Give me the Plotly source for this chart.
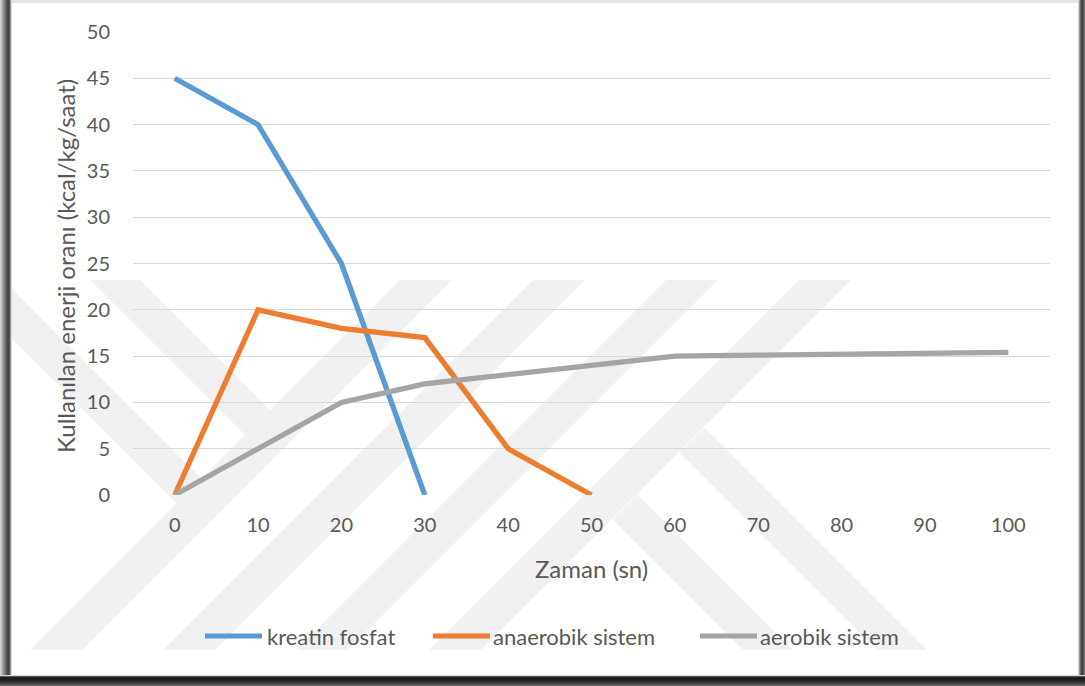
import plotly.graph_objects as go

# Data: time (s) vs energy usage rate (kcal/kg/saat)
zaman = [0, 10, 20, 30, 40, 50, 60, 70, 80, 90, 100]
kreatin_fosfat = [45, 40, 25, 0, None, None, None, None, None, None, None]
anaerobik_sistem = [0, 20, 18, 17, 5, 0, None, None, None, None, None]
aerobik_sistem = [0, 5, 10, 12, 13, 14, 15, 15.1, 15.2, 15.3, 15.4]

series_names = ["kreatin fosfat", "anaerobik sistem", "aerobik sistem"]
series_colors = ["#5B9BD5", "#ED7D31", "#A5A5A5"]
y_ticks = [0, 5, 10, 15, 20, 25, 30, 35, 40, 45, 50]

W, H = 1085, 686
ML, MR, MT, MB = 133, 35, 32, 191
PW, PH = W - ML - MR, H - MT - MB
FONT = "Lato"
TXT = "#595959"


def px(x):
    return (x - ML) / PW


def py(y):
    return (H - MB - y) / PH


def path(pts):
    return "M " + " L ".join(f"{px(x):.5f},{py(y):.5f}" for x, y in pts) + " Z"


fig = go.Figure()
for name, vals, col in zip(series_names, [kreatin_fosfat, anaerobik_sistem, aerobik_sistem], series_colors):
    fig.add_trace(go.Scatter(
        x=zaman, y=vals, name=name, mode="lines",
        line=dict(color=col, width=5.3), connectgaps=False, showlegend=False,
    ))

shapes = []
# faint background watermark made of diagonal stripes
wm = "rgba(0,0,0,0.055)"
for k in range(4):
    xt = 400 + 133 * k
    shapes.append(dict(type="path", xref="paper", yref="paper", layer="below",
                       path=path([(xt, 280), (xt + 52, 280), (xt + 52 - 370, 650), (xt - 370, 650)]),
                       fillcolor=wm, line=dict(width=0)))
for pts in [
    [(12, 280), (3, 280), (201.5, 478.5), (176.5, 503.5), (12, 339)],
    [(90, 280), (140, 280), (270, 410), (245, 435)],
    [(704.5, 427.5), (679.5, 452.5), (877, 650), (927, 650)],
    [(637.5, 494.5), (612.5, 519.5), (743, 650), (793, 650)],
]:
    shapes.append(dict(type="path", xref="paper", yref="paper", layer="below",
                       path=path(pts), fillcolor=wm, line=dict(width=0)))

# frame shadow around the chart panel
def rect(x0, y0, x1, y1, color):
    shapes.append(dict(type="rect", xref="paper", yref="paper", layer="above",
                       x0=px(x0), x1=px(x1), y0=py(y1), y1=py(y0),
                       fillcolor=color, line=dict(width=0)))

rect(0, 0, W, 3, "#e4e4e4")
for i, c in enumerate(["#d0d0d0", "#bdbdbd", "#a8a8a8", "#939393", "#7e7e7e", "#6a6a6a",
                       "#585858", "#4a4a4a", "#444444", "#555555", "#9a9a9a", "#d8d8d8"]):
    rect(i, 0, i + 1, H, c)
for i, c in enumerate(["#d6d6d6", "#9a9a9a", "#6a6a6a", "#4a4a4a", "#404040", "#555555", "#777777"]):
    rect(1078 + i, 0, 1079 + i, H, c)
for i, c in enumerate(["#d6d6d6", "#555555", "#222222", "#1a1a1a", "#1e1e1e", "#262626",
                       "#2e2e2e", "#383838", "#444444", "#555555", "#666666"]):
    rect(0, 675 + i, W, 676 + i, c)

# legend drawn below the plot
legend_items = [(205, 265), (433, 491), (700, 758)]
annotations = []
for (lx, tx), name, col in zip(legend_items, series_names, series_colors):
    shapes.append(dict(type="line", xref="paper", yref="paper", x0=px(lx), x1=px(lx + 57),
                       y0=py(636), y1=py(636), line=dict(color=col, width=5)))
    annotations.append(dict(text=name, xref="paper", yref="paper", x=px(tx), y=py(636),
                            xanchor="left", yanchor="middle", showarrow=False,
                            font=dict(family=FONT, size=22, color=TXT)))

annotations.append(dict(text="Zaman (sn)", xref="paper", yref="paper", x=px(591), y=py(568),
                        xanchor="center", yanchor="middle", showarrow=False,
                        font=dict(family=FONT, size=24, color=TXT)))
annotations.append(dict(text="Kullanılan enerji oranı (kcal/kg/saat)", xref="paper", yref="paper",
                        x=px(65), y=py(266), textangle=-90, xanchor="center", yanchor="middle",
                        showarrow=False, font=dict(family=FONT, size=24, color=TXT)))

fig.update_layout(
    width=W, height=H,
    margin=dict(l=ML, r=MR, t=MT, b=MB, pad=0),
    paper_bgcolor="white", plot_bgcolor="rgba(0,0,0,0)",
    showlegend=False,
    shapes=shapes, annotations=annotations,
    xaxis=dict(range=[-5, 105], tickvals=zaman, ticktext=[str(v) for v in zaman],
               showgrid=False, zeroline=False, showline=False, ticks="",
               ticklabelstandoff=16, tickfont=dict(family=FONT, size=20, color=TXT)),
    yaxis=dict(range=[0, 50], tickvals=y_ticks, showgrid=True, gridcolor="#d9d9d9", gridwidth=1.3,
               zeroline=False, showline=False, ticks="", ticklabelstandoff=22,
               tickfont=dict(family=FONT, size=20, color=TXT)),
)

fig.write_html("out.html")
